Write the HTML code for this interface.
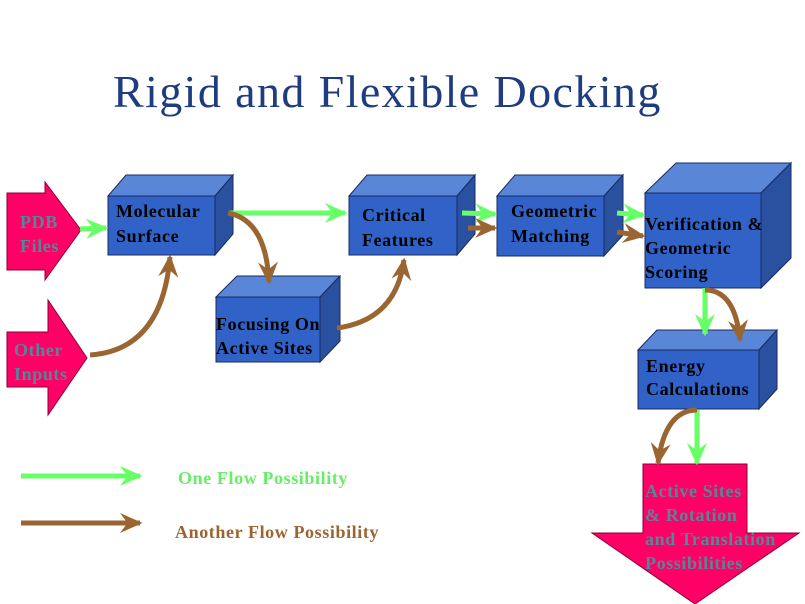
<!DOCTYPE html>
<html><head><meta charset="utf-8"><style>
html,body{margin:0;padding:0;background:#fff;}
svg{display:block;}
.t{font-family:"Liberation Serif",serif;font-weight:bold;font-size:18px;letter-spacing:0.6px;fill:#000;}
.p{font-family:"Liberation Serif",serif;font-weight:bold;font-size:18px;letter-spacing:0.6px;fill:#4f8a96;}
</style></head><body>
<svg width="805" height="604" viewBox="0 0 805 604" xmlns="http://www.w3.org/2000/svg">
<defs>
<marker id="g" markerUnits="userSpaceOnUse" markerWidth="30" markerHeight="30" refX="0" refY="0" viewBox="-20 -12 24 24" orient="auto"><path d="M2,0 L-16,-8 L-10,0 L-16,8 Z" fill="#66ff66"/></marker>
<marker id="b" markerUnits="userSpaceOnUse" markerWidth="30" markerHeight="30" refX="0" refY="0" viewBox="-20 -12 24 24" orient="auto"><path d="M2,0 L-16,-8 L-10,0 L-16,8 Z" fill="#9a6530"/></marker>
</defs>
<text x="113" y="107" font-family="Liberation Serif,serif" font-size="46" letter-spacing="1.4" fill="#1e3c80">Rigid and Flexible Docking</text>

<polygon points="7,193 45,193 45,182 81,230 45,280 45,270 7,270" fill="#ff0066" stroke="#8a0033" stroke-width="1"/>
<text class="p" x="20" y="228">PDB</text><text class="p" x="20" y="252">Files</text>
<polygon points="7,332 48,332 48,300 87,358 48,415 48,387 7,387" fill="#ff0066" stroke="#8a0033" stroke-width="1"/>
<text class="p" x="14" y="356">Other</text><text class="p" x="14" y="380">Inputs</text>

<g stroke="#1a2a60" stroke-width="1">
<polygon points="108,196 126,175 233,175 215,196" fill="#5a86d8"/>
<polygon points="215,196 233,175 233,234 215,255" fill="#2a50a0"/>
<rect x="108" y="196" width="107" height="59" fill="#3062c8"/>

<polygon points="216,297 237,276 340,276 320,297" fill="#5a86d8"/>
<polygon points="320,297 340,276 340,341 320,362" fill="#2a50a0"/>
<rect x="216" y="297" width="104" height="65" fill="#3062c8"/>

<polygon points="349,196 367,175 475,175 457,196" fill="#5a86d8"/>
<polygon points="457,196 475,175 475,234 457,255" fill="#2a50a0"/>
<rect x="349" y="196" width="108" height="59" fill="#3062c8"/>

<polygon points="497,196 515,175 623,175 604,196" fill="#5a86d8"/>
<polygon points="604,196 623,175 623,235 604,256" fill="#2a50a0"/>
<rect x="497" y="196" width="107" height="60" fill="#3062c8"/>

<polygon points="645,193 676,163 791,163 761,193" fill="#5a86d8"/>
<polygon points="761,193 791,163 791,258 761,288" fill="#2a50a0"/>
<rect x="645" y="193" width="116" height="95" fill="#3062c8"/>

<polygon points="638,350 657,330 777,330 759,350" fill="#5a86d8"/>
<polygon points="759,350 777,330 777,389 759,409" fill="#2a50a0"/>
<rect x="638" y="350" width="121" height="59" fill="#3062c8"/>
</g>
<text class="t" x="116" y="217">Molecular</text><text class="t" x="116" y="242">Surface</text>
<text class="t" x="216" y="330">Focusing On</text><text class="t" x="216" y="354">Active Sites</text>
<text class="t" x="362" y="221">Critical</text><text class="t" x="362" y="246">Features</text>
<text class="t" x="511" y="217">Geometric</text><text class="t" x="511" y="242">Matching</text>
<text class="t" x="645" y="230">Verification &amp;</text><text class="t" x="645" y="254">Geometric</text><text class="t" x="645" y="278">Scoring</text>
<text class="t" x="646" y="372">Energy</text><text class="t" x="646" y="395">Calculations</text>

<polygon points="643,464 747,464 747,533 799,533 695,604 592,533 643,533" fill="#ff0066" stroke="#8a0033" stroke-width="1"/>
<text class="p" x="645" y="497">Active Sites</text>
<text class="p" x="645" y="521">&amp; Rotation</text>
<text class="p" x="645" y="545">and Translation</text>
<text class="p" x="645" y="569">Possibilities</text>

<g fill="none" stroke-width="5">
<path d="M80,229 L106,228" stroke="#66ff66" marker-end="url(#g)"/>
<path d="M230,213 L345,213" stroke="#66ff66" marker-end="url(#g)"/>
<path d="M228,213 Q266,220 269,282" stroke="#9a6530" marker-end="url(#b)"/>
<path d="M90,355 Q162,350 170,257" stroke="#9a6530" marker-end="url(#b)"/>
<path d="M337,328 Q396,320 404,260" stroke="#9a6530" marker-end="url(#b)"/>
<path d="M462,213 L495,214" stroke="#66ff66" marker-end="url(#g)"/>
<path d="M468,228 L495,228" stroke="#9a6530" marker-end="url(#b)"/>
<path d="M617,213 L643,215" stroke="#66ff66" marker-end="url(#g)"/>
<path d="M617,232 L643,236" stroke="#9a6530" marker-end="url(#b)"/>
<path d="M705,288 L705,334" stroke="#66ff66" marker-end="url(#g)"/>
<path d="M705,290 Q735,290 740,340" stroke="#9a6530" marker-end="url(#b)"/>
<path d="M697,410 L697,463" stroke="#66ff66" marker-end="url(#g)"/>
<path d="M697,410 Q665,410 658,463" stroke="#9a6530" marker-end="url(#b)"/>
<path d="M21,476 L140,476" stroke="#66ff66" marker-end="url(#g)"/>
<path d="M21,523 L140,523" stroke="#9a6530" marker-end="url(#b)"/>
</g>
<text x="178" y="484" font-family="Liberation Serif,serif" font-weight="bold" font-size="18" letter-spacing="0.6" fill="#66ee66">One Flow Possibility</text>
<text x="175" y="538" font-family="Liberation Serif,serif" font-weight="bold" font-size="18" letter-spacing="0.6" fill="#9a6530">Another Flow Possibility</text>
</svg>
</body></html>
